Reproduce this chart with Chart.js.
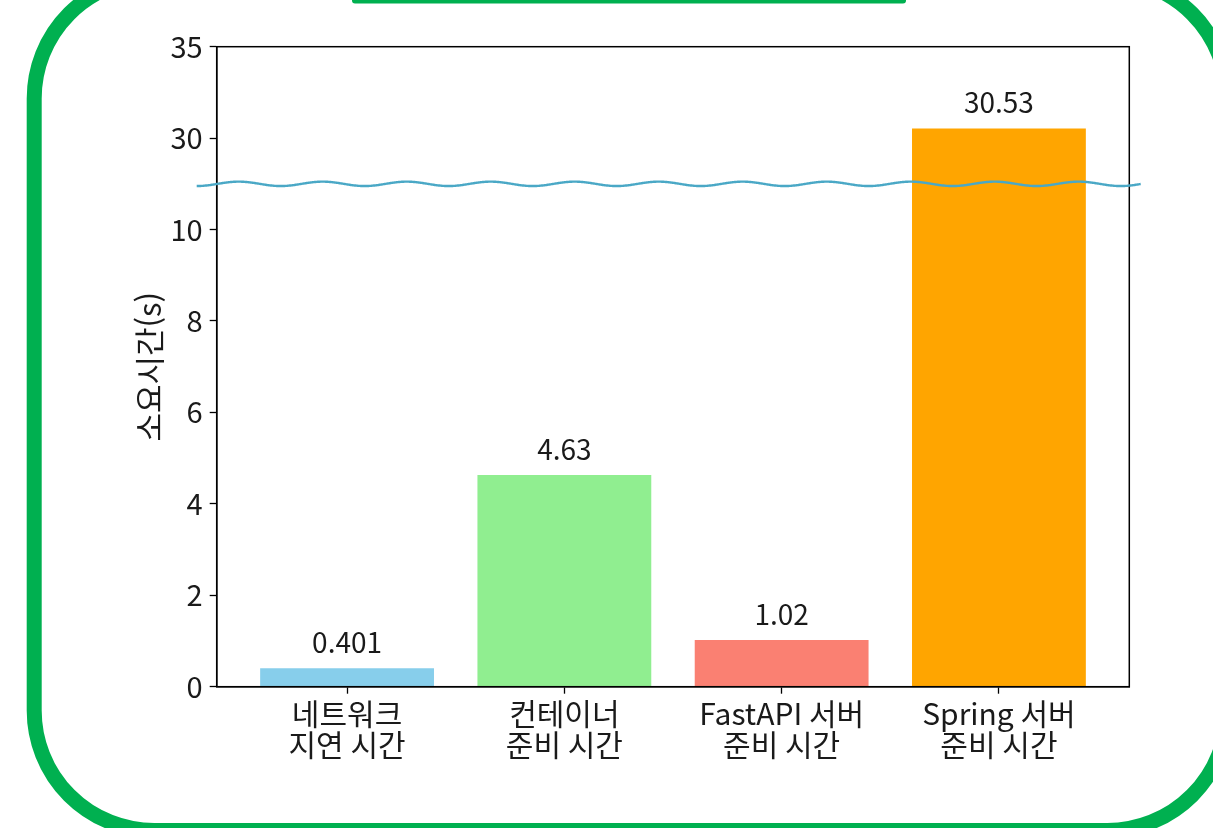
<!DOCTYPE html>
<html lang="ko">
<head>
<meta charset="utf-8">
<title>소요시간</title>
<script src="https://cdn.jsdelivr.net/npm/chart.js@4.4.1/dist/chart.umd.min.js"></script>
<style>
  html, body { margin: 0; padding: 0; background: #fff; }
  #chart { display: block; }
</style>
</head>
<body>
<canvas id="chart" width="1213" height="828"></canvas>
<script>
// data
const categories = [
    ['네트워크', '지연 시간'],
    ['컨테이너', '준비 시간'],
    ['FastAPI 서버', '준비 시간'],
    ['Spring 서버', '준비 시간'],
];
const durations = [0.401, 4.63, 1.02, 30.53];
const valueLabels = ['0.401', '4.63', '1.02', '30.53'];
const barColors = ['#87CEEB', '#90EE90', '#FA8072', '#FFA500'];
const yTickLabels = [0, 2, 4, 6, 8, 10, 30, 35];

// broken axis: 0..10 as is, then 25.. squeezed so 30 and 35 sit right above 10
const breakLow = 10;
const breakHigh = 25;
const upperScale = 0.4;
const toAxis = (v) => (v <= breakLow ? v : breakLow + (v - breakHigh) * upperScale);
const fromAxis = (a) => (a <= breakLow ? a : breakHigh + (a - breakLow) / upperScale);
const waveAt = breakLow + 1;

const FONT = "'Noto Sans CJK KR', 'Noto Sans', sans-serif";
const TEXT = '#1a1a1a';
const FRAME_GREEN = '#00b050';

const framePlugin = {
    id: 'frame',
    beforeDraw(chart) {
        const { ctx } = chart;
        ctx.save();
        ctx.fillStyle = '#fff';
        ctx.fillRect(0, 0, chart.width, chart.height);
        // outer rounded frame, partly outside the picture
        ctx.strokeStyle = FRAME_GREEN;
        ctx.lineWidth = 15;
        ctx.beginPath();
        ctx.roundRect(34.2, -21.5, 1227.3 - 34.2, 830.5 + 21.5, 120);
        ctx.stroke();
        // bottom of the title box above
        ctx.fillStyle = FRAME_GREEN;
        ctx.beginPath();
        ctx.roundRect(352, -20, 554, 23.5, 3);
        ctx.fill();
        ctx.restore();
    },
};

const boxAndLabelsPlugin = {
    id: 'boxAndLabels',
    afterDatasetsDraw(chart) {
        const { ctx, chartArea } = chart;
        ctx.save();
        ctx.strokeStyle = '#000';
        ctx.lineWidth = 1.5;
        ctx.strokeRect(chartArea.left, chartArea.top, chartArea.right - chartArea.left, chartArea.bottom - chartArea.top);

        ctx.fillStyle = TEXT;
        ctx.font = `28px ${FONT}`;
        ctx.textAlign = 'center';
        ctx.textBaseline = 'alphabetic';
        chart.getDatasetMeta(0).data.forEach((bar, i) => {
            ctx.fillText(valueLabels[i], bar.x, bar.y - 15);
        });
        ctx.restore();
    },
    afterDraw(chart) {
        const { ctx, chartArea, scales } = chart;
        const yc = scales.y.getPixelForValue(waveAt);
        const x0 = chartArea.left - 20;
        const x1 = chartArea.right + 12;
        const period = 84;
        const amp = 2.2;
        ctx.save();
        ctx.strokeStyle = '#4aa8c6';
        ctx.lineWidth = 2.4;
        ctx.beginPath();
        for (let x = x0; x <= x1; x += 1) {
            const y = yc + amp * Math.cos((2 * Math.PI * (x - x0)) / period);
            if (x === x0) ctx.moveTo(x, y);
            else ctx.lineTo(x, y);
        }
        ctx.stroke();
        ctx.restore();
    },
};

new Chart(document.getElementById('chart'), {
    type: 'bar',
    data: {
        datasets: [{
            data: durations.map((v, i) => ({ x: i, y: toAxis(v) })),
            backgroundColor: barColors,
            borderWidth: 0,
            barPercentage: 0.8,
            categoryPercentage: 1,
        }],
    },
    options: {
        responsive: false,
        animation: false,
        devicePixelRatio: 1,
        layout: { padding: { left: 0, top: 46.7, right: 83.7, bottom: 41.3 } },
        plugins: {
            legend: { display: false },
            tooltip: { enabled: false },
        },
        scales: {
            x: {
                type: 'linear',
                offset: false,
                min: -0.6,
                max: 3.6,
                afterBuildTicks: (scale) => {
                    scale.ticks = categories.map((_, i) => ({ value: i }));
                },
                afterFit: (scale) => { scale.height = 100; },
                ticks: {
                    callback: (value) => categories[value],
                    color: TEXT,
                    font: { family: FONT, size: 30, lineHeight: 1.05 },
                    padding: 4,
                    maxRotation: 0,
                    autoSkip: false,
                },
                grid: {
                    offset: false,
                    drawOnChartArea: false,
                    tickLength: 7,
                    tickColor: '#000',
                    tickWidth: 1.3,
                },
                border: { display: true, color: '#000', width: 1.5 },
            },
            y: {
                type: 'linear',
                min: 0,
                max: toAxis(35),
                afterBuildTicks: (scale) => {
                    scale.ticks = yTickLabels.map((v) => ({ value: toAxis(v) }));
                },
                afterFit: (scale) => { scale.width = 216.7; },
                ticks: {
                    callback: (value) => String(Math.round(fromAxis(value))),
                    color: TEXT,
                    font: { family: FONT, size: 29 },
                    padding: 7,
                    autoSkip: false,
                },
                grid: {
                    drawOnChartArea: false,
                    tickLength: 7,
                    tickColor: '#000',
                    tickWidth: 1.3,
                },
                border: { display: true, color: '#000', width: 1.5 },
                title: {
                    display: true,
                    text: '소요시간(s)',
                    color: TEXT,
                    font: { family: FONT, size: 31 },
                    padding: { top: 131, bottom: 0 },
                },
            },
        },
    },
    plugins: [framePlugin, boxAndLabelsPlugin],
});
</script>
</body>
</html>
